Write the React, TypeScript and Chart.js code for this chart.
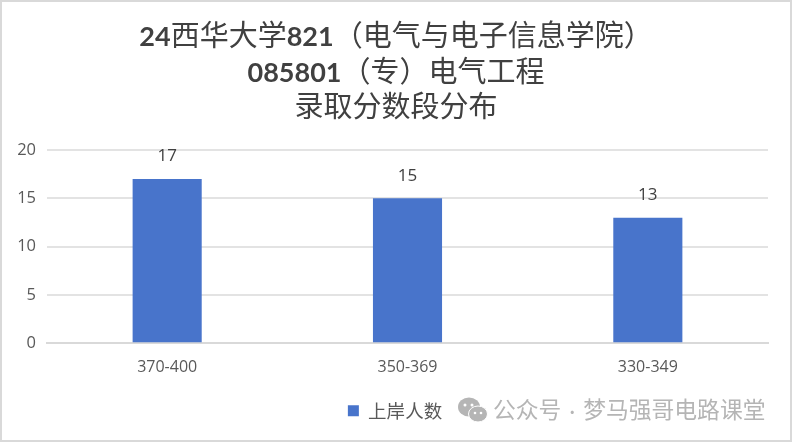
import React, { useEffect, useRef } from "react";
import { Chart, registerables } from "chart.js";

Chart.register(...registerables);

const categories = ["370-400", "350-369", "330-349"];
const seriesName = "上岸人数";
const seriesValues = [17, 15, 13];
const yTickMax = 20;
const yTickStep = 5;

const valueLabels = {
  id: "valueLabels",
  afterLayout(chart: any) {
    chart.legend.left += 7;
    chart.legend.right += 7;
  },
  afterDatasetsDraw(chart: any) {
    const { ctx } = chart;
    const meta = chart.getDatasetMeta(0);
    ctx.save();
    ctx.font = '17px "Open Sans", "Noto Sans", sans-serif';
    ctx.fillStyle = "#404040";
    ctx.textAlign = "center";
    ctx.textBaseline = "bottom";
    meta.data.forEach((el: any, i: number) => {
      ctx.fillText(String(seriesValues[i]), el.x, el.y - 14);
    });
    ctx.restore();
  },
};

const latin: React.CSSProperties = { fontFamily: "Lato, sans-serif", fontWeight: 700, fontSize: 27 };
const titleLine: React.CSSProperties = { height: 35.5, overflow: "visible", whiteSpace: "nowrap" };

export default function App() {
  const ref = useRef<HTMLCanvasElement>(null);
  useEffect(() => {
    document.body.style.margin = "0";
    const chart = new Chart(ref.current!, {
      type: "bar",
      data: {
        labels: categories,
        datasets: [
          {
            label: seriesName,
            data: seriesValues,
            backgroundColor: "#4874CB",
            categoryPercentage: 1,
            barPercentage: 0.2875,
          },
        ],
      },
      options: {
        responsive: false,
        animation: false,
        layout: { padding: { top: 150, left: 8, right: 24, bottom: 12 } },
        plugins: {
          title: { display: false },
          tooltip: { enabled: false },
          legend: {
            display: true,
            position: "bottom",
            align: "center",
            labels: {
              boxWidth: 11,
              boxHeight: 11,
              padding: 9,
              color: "#595959",
              font: { family: '"Noto Sans CJK SC", sans-serif', size: 18.5 },
            },
          },
        },
        scales: {
          x: {
            grid: { display: false, drawTicks: false },
            border: { color: "#d9d9d9", width: 2 },
            ticks: {
              color: "#595959",
              padding: 15,
              font: { family: '"Open Sans", sans-serif', size: 16 },
            },
          },
          y: {
            min: 0,
            max: yTickMax,
            afterFit: (s: any) => { s.width = 39; },
            grid: { color: "#e3e3e3", lineWidth: 2, drawTicks: false },
            border: { display: false },
            ticks: {
              stepSize: yTickStep,
              color: "#595959",
              padding: 11,
              font: { family: '"Open Sans", sans-serif', size: 16.5 },
            },
          },
        },
      },
      plugins: [valueLabels],
    } as any);
    return () => chart.destroy();
  }, []);

  return (
    <div style={{ position: "relative", width: 792, height: 442, background: "#fff", overflow: "hidden" }}>
      <canvas ref={ref} width={792} height={442} style={{ display: "block", position: "absolute", left: 0, top: 0 }} />
      <div style={{ position: "absolute", inset: 0, border: "2px solid #d9d9d9", pointerEvents: "none" }} />
      <div style={{ position: "absolute", left: 0, right: 0, top: 16, textAlign: "center", color: "#404040", fontFamily: '"Noto Sans CJK SC", sans-serif', fontSize: 29, lineHeight: "35px", fontWeight: 400 }}>
        <div style={titleLine}><span style={latin}>24</span>西华大学<span style={latin}>821</span>（电气与电子信息学院）</div>
        <div style={titleLine}><span style={latin}>085801</span>（专）电气工程</div>
        <div style={titleLine}>录取分数段分布</div>
      </div>
      <svg width="32" height="28" viewBox="0 0 32 28" style={{ position: "absolute", left: 457, top: 397 }}>
        <ellipse cx="12" cy="10" rx="11" ry="9.5" fill="#b5b5b5" />
        <ellipse cx="21" cy="17" rx="9.5" ry="8" fill="#b5b5b5" stroke="#fff" strokeWidth="1" />
        <circle cx="8" cy="8" r="1.5" fill="#fff" />
        <circle cx="15" cy="8" r="1.5" fill="#fff" />
        <circle cx="18" cy="16" r="1.3" fill="#fff" />
        <circle cx="24" cy="16" r="1.3" fill="#fff" />
      </svg>
      <div style={{ position: "absolute", left: 493, top: 395, color: "#b5b5b5", fontFamily: '"Noto Sans CJK SC", sans-serif', fontSize: 22.8, lineHeight: "28px", whiteSpace: "nowrap" }}>公众号<span style={{ fontSize: 15 }}> · </span>梦马强哥电路课堂</div>
    </div>
  );
}
